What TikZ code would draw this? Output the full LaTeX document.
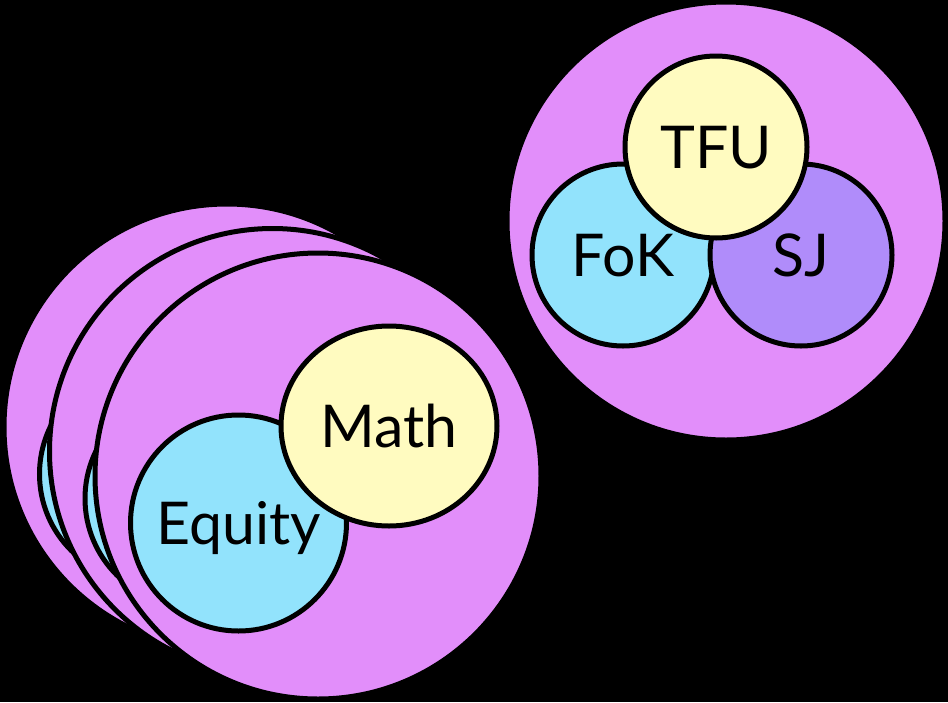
\documentclass[tikz,border=0pt]{standalone}
\usepackage{fontspec}
\setmainfont{Lato}
\usetikzlibrary{shapes.geometric}
\definecolor{blobpink}{RGB}{226,142,250}
\definecolor{skyblue}{RGB}{146,227,252}
\definecolor{paleyellow}{RGB}{255,251,192}
\definecolor{lavender}{RGB}{176,140,250}

\begin{document}
\begin{tikzpicture}[x=1pt, y=-1pt,
  blob/.style={circle, draw=black, line width=5pt, inner sep=0pt,
               font=\fontsize{59}{59}\selectfont, text height=43pt, text depth=0pt},
  field/.style={blob, fill=blobpink, minimum size=446pt},
  sky/.style={blob, fill=skyblue, minimum size=216pt},
  sunny/.style={blob, ellipse, fill=paleyellow, minimum width=216pt, minimum height=200pt},
  small/.style={minimum size=182pt, minimum width=182pt, minimum height=182pt}
]
\fill[black] (0,0) rectangle (948,702);
\useasboundingbox (0,0) rectangle (948,702);

\foreach \i/\sx/\sy in {0/-91/-49, 1/-45.5/-24.5} {
  \begin{scope}[shift={(\sx,\sy)}]
    \node[field] (field\i)  at (318,476)   {};
    \node[sky]   (equity\i) at (238.5,523) {};
    \node[sunny] (math\i)   at (389,426)   {};
  \end{scope}
}
\node[field] (field2)  at (318,476)   {};
\node[sky]   (equity2) at (238.5,523) {Equity};
\node[sunny] (math2)   at (389,426)   {Math};

\node[field, minimum size=438pt] (core) at (726,221) {};
\node[sky, small]                (fok)  at (623,255) {FoK};
\node[blob, fill=lavender, small] (sj)  at (801,255) {SJ};
\node[sunny, small]              (tfu)  at (716,147) {TFU};
\end{tikzpicture}
\end{document}
